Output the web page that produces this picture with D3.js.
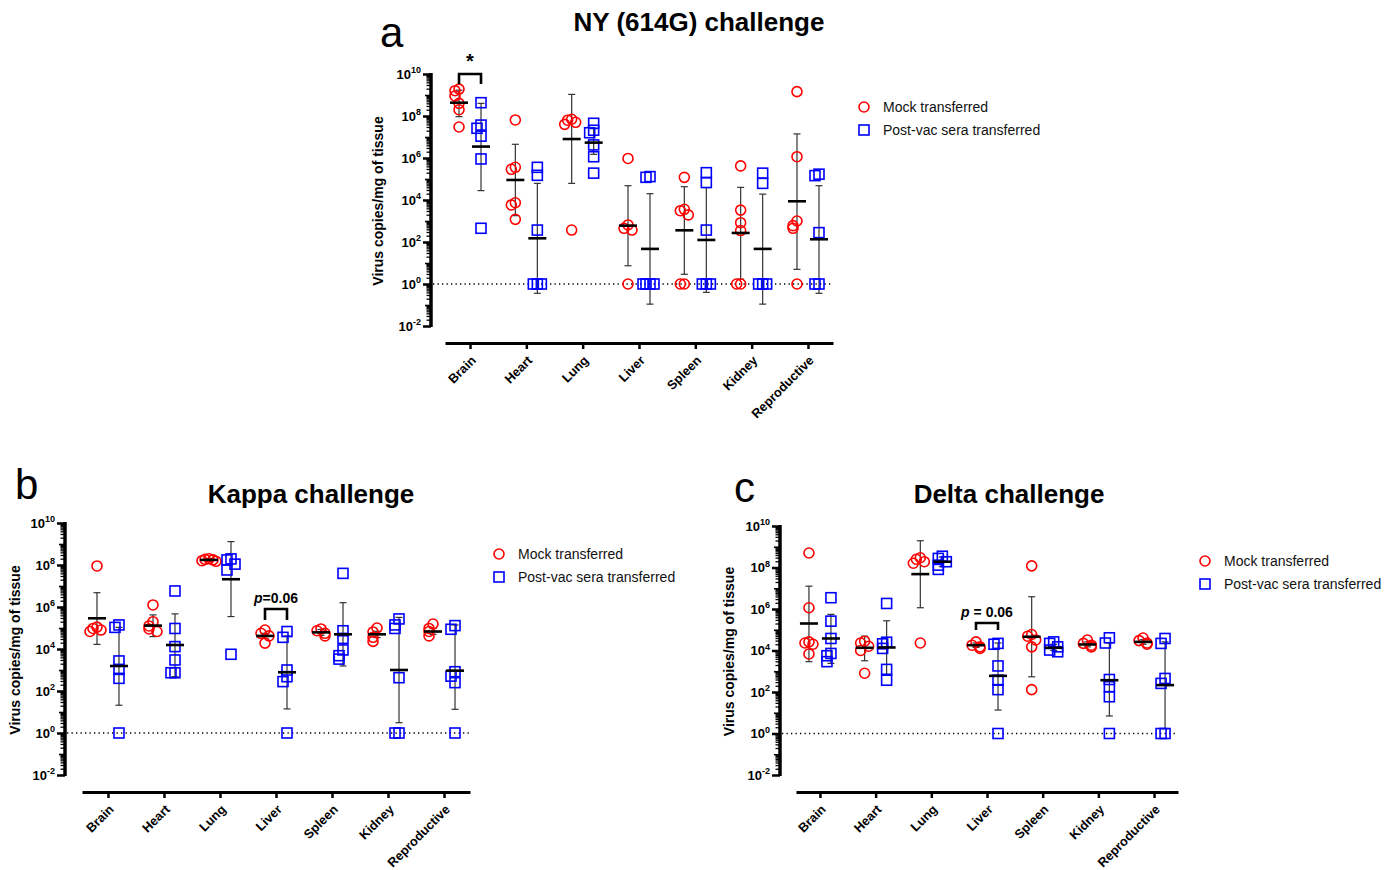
<!DOCTYPE html>
<html>
<head>
<meta charset="utf-8">
<script src="https://cdn.jsdelivr.net/npm/d3@7"></script>
<style>
  body { margin: 0; background: #fff; }
  text { font-family: Arial, "Liberation Sans", sans-serif; }
</style>
</head>
<body>
<svg id="fig" width="1396" height="870"></svg>
<script>
// tissues on the x axis
var tissues = ["Brain", "Heart", "Lung", "Liver", "Spleen", "Kidney", "Reproductive"];

// virus copies/mg of tissue, one list per tissue
// a: NY (614G)
var nyMock = [
  [1.9e9, 1.6e9, 9e8, 4e8, 2e8, 3e7],
  [6.5e7, 3.6e5, 2.9e5, 7400, 5800, 1200],
  [7e7, 6.3e7, 5e7, 4e7, 370],
  [9.5e5, 650, 450, 370, 1],
  [1.2e5, 3600, 3100, 1950, 1, 1],
  [4.2e5, 3300, 830, 350, 1, 1],
  [1.45e9, 1.15e6, 1000, 600, 450, 1]
];
var nyVac = [
  [4.3e8, 3.7e7, 2.6e7, 1.1e7, 9e5, 450],
  [3.6e5, 1.5e5, 370, 1, 1, 1],
  [4.5e7, 2.1e7, 1.6e7, 4.2e6, 1.15e6, 1.9e5],
  [1.2e5, 1.3e5, 1, 1, 1, 1],
  [2e5, 6.8e4, 370, 1, 1, 1],
  [1.9e5, 6.2e4, 1, 1, 1],
  [1.7e5, 1.45e5, 280, 1, 1]
];
// [geometric mean, lower error, upper error]
var nyMockStats = [[4.3e8, 9.3e7, 1.7e9], [9e4, 1800, 4.5e6], [8e6, 6.2e4, 1.07e9], [600, 7.4, 4.8e4],
  [360, 2.9, 4.3e4], [270, 1.7, 4e4], [8700, 5, 1.4e7]];
var nyVacStats = [[3.5e6, 2.8e4, 4e8], [150, 0.36, 6.2e4], [5.4e6, 1.5e6, 2.5e7], [47, 0.11, 2e4],
  [125, 0.4, 3.9e4], [47, 0.11, 1.9e4], [135, 0.36, 4.8e4]];

// b: Kappa
var kappaMock = [
  [9e7, 1.1e5, 9.5e4, 8e4, 6.8e4],
  [1.25e6, 2e5, 1.25e5, 9e4, 6.8e4],
  [2e8, 1.85e8, 1.75e8, 1.6e8, 1.5e8],
  [8e4, 5.6e4, 4.2e4, 1.9e4],
  [9e4, 7.4e4, 5.6e4, 4.2e4],
  [1e5, 6.5e4, 3.6e4, 2.3e4],
  [1.55e5, 9.5e4, 6.8e4, 4.2e4]
];
var kappaVac = [
  [1.4e5, 1.07e5, 2700, 1070, 400, 1],
  [5.8e6, 9.5e4, 1.3e4, 3000, 740, 740],
  [1.95e8, 1.75e8, 1.1e8, 5.8e7, 5600],
  [6.8e4, 3.6e4, 1000, 480, 280, 1],
  [4e7, 7.4e4, 3.2e4, 9000, 4800, 3300],
  [2.7e5, 1.4e5, 9.5e4, 430, 1, 1],
  [1.3e5, 8.7e4, 830, 510, 250, 1]
];
var kappaMockStats = [[2.9e5, 1.66e4, 4.8e6], [1.3e5, 3.9e4, 4.2e5], [1.75e8, 1.5e8, 2e8], [4.2e4, 3.2e4, 5.6e4],
  [6.2e4, 4.5e4, 8.5e4], [5e4, 3.5e4, 7e4], [6.8e4, 5e4, 9.5e4]];
var kappaVacStats = [[1550, 21, 1.07e5], [1.55e4, 480, 4.7e5], [2.1e7, 3.5e5, 1.3e9], [780, 14, 4.2e4],
  [5e4, 1550, 1.6e6], [1000, 3.1, 3.2e5], [930, 13.5, 1.4e5]];

// c: Delta
var deltaMock = [
  [5e8, 1.15e6, 2.6e4, 2.3e4, 2e4, 6800],
  [2.8e4, 2.3e4, 1.6e4, 1e4, 800],
  [2.95e8, 2.5e8, 1.9e8, 1.6e8, 2.3e4],
  [2.6e4, 1.8e4, 1.5e4, 1.26e4],
  [1.2e8, 5.9e4, 4.9e4, 3.2e4, 1.5e4, 130],
  [3.2e4, 2.2e4, 1.8e4, 1.5e4],
  [4e4, 3e4, 2.3e4, 2e4]
];
var deltaVac = [
  [3.5e6, 2.6e5, 3.8e4, 7200, 5600, 2900],
  [1.85e6, 2.5e4, 2.1e4, 1.26e4, 1230, 370],
  [3.5e8, 2.75e8, 1.9e8, 1.3e8, 8.1e7],
  [2.2e4, 2e4, 1800, 370, 130, 1],
  [2.6e4, 2.2e4, 1.5e4, 1.05e4, 8700],
  [4.1e4, 2.3e4, 400, 180, 59, 1],
  [3.8e4, 2.2e4, 450, 260, 1, 1]
];
var deltaMockStats = [[2e5, 2900, 1.26e7], [1.35e4, 3200, 4.9e4], [4.8e7, 1.15e6, 1.95e9], [1.8e4, 1.4e4, 2.3e4],
  [4.6e4, 540, 3.9e6], [1.95e4, 1.5e4, 2.6e4], [2.6e4, 2e4, 3.3e4]];
var deltaVacStats = [[3.8e4, 2400, 5.5e5], [1.4e4, 710, 2.7e5], [1.9e8, 1.1e8, 3.2e8], [600, 13.5, 2.3e4],
  [1.35e4, 1e4, 2e4], [370, 7, 2.3e4], [215, 1.7, 2.6e4]];

var seriesNames = ["Mock transferred", "Post-vac sera transferred"];
var majorTicks = [1e-2, 1e0, 1e2, 1e4, 1e6, 1e8, 1e10];

var red = "#ff0000", blue = "#0000ff";
var svg = d3.select("#fig");

function drawPanel(p) {
  var g = svg.append("g");

  var y = d3.scaleLog().domain([1e-2, 1e10]).range([p.bottom, p.top]);
  var x = d3.scalePoint().domain(tissues).range([p.x0, p.x1]).padding(p.pad);

  // y axis: minor ticks then major
  var minor = [];
  for (var e = -2; e < 10; e++) {
    for (var k = 2; k <= 9; k++) minor.push(k * Math.pow(10, e));
  }
  var oddDec = [1e-1, 1e1, 1e3, 1e5, 1e7, 1e9];

  g.append("g")
    .attr("transform", "translate(" + p.axisX + ",0)")
    .call(d3.axisLeft(y).tickValues(minor).tickSize(4.5).tickSizeOuter(0).tickFormat(""))
    .call(s => s.select(".domain").remove())
    .call(s => s.selectAll("line").attr("stroke-width", 1.3));
  g.append("g")
    .attr("transform", "translate(" + p.axisX + ",0)")
    .call(d3.axisLeft(y).tickValues(oddDec).tickSize(6).tickSizeOuter(0).tickFormat(""))
    .call(s => s.select(".domain").remove())
    .call(s => s.selectAll("line").attr("stroke-width", 1.6));

  var ya = g.append("g")
    .attr("transform", "translate(" + p.axisX + ",0)")
    .call(d3.axisLeft(y).tickValues(majorTicks).tickSize(8).tickSizeOuter(0).tickPadding(2));
  ya.select(".domain").attr("stroke-width", 3.5).attr("d", "M0," + (p.top - 1) + "V" + (p.bottom + 1));
  ya.selectAll(".tick line").attr("stroke-width", 2.5);
  ya.selectAll(".tick text").each(function(d) {
    var t = d3.select(this);
    t.text(null)
      .attr("font-size", 13).attr("font-weight", "bold").attr("fill", "#000")
      .attr("font-family", "Arial, 'Liberation Sans', sans-serif");
    t.append("tspan").text("10");
    t.append("tspan").attr("dy", -5.5).attr("font-size", 9).text(Math.round(Math.log10(d)));
  });

  // y title
  g.append("text")
    .attr("transform", "translate(" + p.titleX + "," + ((p.top + p.bottom) / 2 + 1) + ") rotate(-90)")
    .attr("text-anchor", "middle")
    .attr("font-size", 14).attr("font-weight", "bold")
    .text("Virus copies/mg of tissue");

  // x axis
  var xa = g.append("g")
    .attr("transform", "translate(0," + p.xAxisY + ")")
    .call(d3.axisBottom(x).tickSize(6).tickSizeOuter(0));
  xa.select(".domain").attr("stroke-width", 2.8);
  xa.selectAll(".tick line").attr("stroke-width", 2.5);
  xa.selectAll(".tick text")
    .attr("font-size", 12.8).attr("font-weight", "bold").attr("fill", "#000")
    .attr("text-anchor", "end")
    .attr("x", 0).attr("y", 0).attr("dy", "0.35em")
    .attr("transform", "translate(3,15) rotate(-45)");

  // dotted line at 10^0
  g.append("line")
    .attr("x1", p.axisX + 2).attr("x2", p.x1)
    .attr("y1", y(1)).attr("y2", y(1))
    .attr("stroke", "#000").attr("stroke-width", 1.3)
    .attr("stroke-dasharray", "1.3,3.2");

  var groups = [
    { vals: p.mock, stats: p.mockStats, off: -p.off, shape: "circle", color: red },
    { vals: p.vac, stats: p.vacStats, off: p.off, shape: "square", color: blue }
  ];

  groups.forEach(function(gr) {
    tissues.forEach(function(t, i) {
      var cx = x(t) + gr.off;
      var st = gr.stats[i];

      // error bar
      g.append("line").attr("x1", cx).attr("x2", cx)
        .attr("y1", y(st[1])).attr("y2", y(st[2]))
        .attr("stroke", "#333").attr("stroke-width", 1.2);
      [st[1], st[2]].forEach(function(v) {
        g.append("line").attr("x1", cx - 3.5).attr("x2", cx + 3.5)
          .attr("y1", y(v)).attr("y2", y(v))
          .attr("stroke", "#333").attr("stroke-width", 1.2);
      });

      // points, spread sideways when they overlap
      var placed = [];
      var spread = [0, -4, 4, -7, 7, -2, 2];
      var pts = gr.vals[i].slice().sort((a, b) => b - a).map(function(v) {
        var py = y(v);
        var n = placed.filter(q => Math.abs(q - py) < 6).length;
        placed.push(py);
        return { x: cx + spread[n % spread.length], y: py };
      });

      pts.forEach(function(pt) {
        if (gr.shape === "circle") {
          g.append("circle").attr("cx", pt.x).attr("cy", pt.y).attr("r", 5)
            .attr("fill", "none").attr("stroke", gr.color).attr("stroke-width", 1.6);
        } else {
          g.append("rect").attr("x", pt.x - 5).attr("y", pt.y - 5)
            .attr("width", 10).attr("height", 10)
            .attr("fill", "none").attr("stroke", gr.color).attr("stroke-width", 1.6);
        }
      });

      // mean bar
      g.append("line").attr("x1", cx - 9).attr("x2", cx + 9)
        .attr("y1", y(st[0])).attr("y2", y(st[0]))
        .attr("stroke", "#000").attr("stroke-width", 2.6);
    });
  });

  // significance bracket
  var b = p.bracket;
  var bx1 = x(b.tissue) - p.off, bx2 = x(b.tissue) + p.off;
  g.append("path")
    .attr("d", "M" + bx1 + "," + (b.y + b.h) + "V" + b.y + "H" + bx2 + "V" + (b.y + b.h))
    .attr("fill", "none").attr("stroke", "#000").attr("stroke-width", 2.6);
  var lab = g.append("text")
    .attr("x", (bx1 + bx2) / 2 + b.dx).attr("y", b.y - 6)
    .attr("text-anchor", "middle")
    .attr("font-size", b.size).attr("font-weight", "bold");
  if (b.label === "*") {
    lab.text("*");
  } else {
    lab.append("tspan").attr("font-style", "italic").text("p");
    lab.append("tspan").text(b.label);
  }

  // legend
  var lg = g.append("g").attr("transform", "translate(" + p.legX + "," + p.legY + ")");
  lg.append("circle").attr("cx", 0).attr("cy", 0).attr("r", 5)
    .attr("fill", "none").attr("stroke", red).attr("stroke-width", 1.6);
  lg.append("rect").attr("x", -5).attr("y", 18).attr("width", 10).attr("height", 10)
    .attr("fill", "none").attr("stroke", blue).attr("stroke-width", 1.6);
  lg.selectAll("text.leg").data(seriesNames).join("text")
    .attr("class", "leg")
    .attr("x", 19).attr("y", (d, i) => i * 23).attr("dy", "0.35em")
    .attr("font-size", 14).attr("fill", "#111")
    .text(d => d);

  // panel title and letter
  g.append("text").attr("x", p.titleCx).attr("y", p.titleY)
    .attr("text-anchor", "middle").attr("font-size", 26).attr("font-weight", "bold")
    .text(p.title);
  g.append("text").attr("x", p.letterX).attr("y", p.letterY)
    .attr("font-size", 42).text(p.letter);
}

drawPanel({
  mock: nyMock, vac: nyVac, mockStats: nyMockStats, vacStats: nyVacStats,
  axisX: 431, top: 74, bottom: 326, xAxisY: 343, x0: 445, x1: 833, pad: 0.444, off: 11,
  titleX: 383, legX: 864, legY: 107,
  title: "NY (614G) challenge", titleCx: 699, titleY: 31, letter: "a", letterX: 380, letterY: 47,
  bracket: { tissue: "Brain", label: "*", y: 74, h: 10, dx: 0, size: 20 }
});

drawPanel({
  mock: kappaMock, vac: kappaVac, mockStats: kappaMockStats, vacStats: kappaVacStats,
  axisX: 65, top: 523, bottom: 775, xAxisY: 792, x0: 82, x1: 470, pad: 0.464, off: 11,
  titleX: 20, legX: 499, legY: 554,
  title: "Kappa challenge", titleCx: 311, titleY: 503, letter: "b", letterX: 15, letterY: 499,
  bracket: { tissue: "Liver", label: "=0.06", y: 609, h: 11, dx: 0, size: 14 }
});

drawPanel({
  mock: deltaMock, vac: deltaVac, mockStats: deltaMockStats, vacStats: deltaVacStats,
  axisX: 780, top: 526, bottom: 775, xAxisY: 792, x0: 796, x1: 1178, pad: 0.43, off: 11,
  titleX: 734, legX: 1205, legY: 561,
  title: "Delta challenge", titleCx: 1009, titleY: 503, letter: "c", letterX: 734, letterY: 502,
  bracket: { tissue: "Liver", label: " = 0.06", y: 623, h: 7, dx: 0, size: 14 }
});
</script>
</body>
</html>
